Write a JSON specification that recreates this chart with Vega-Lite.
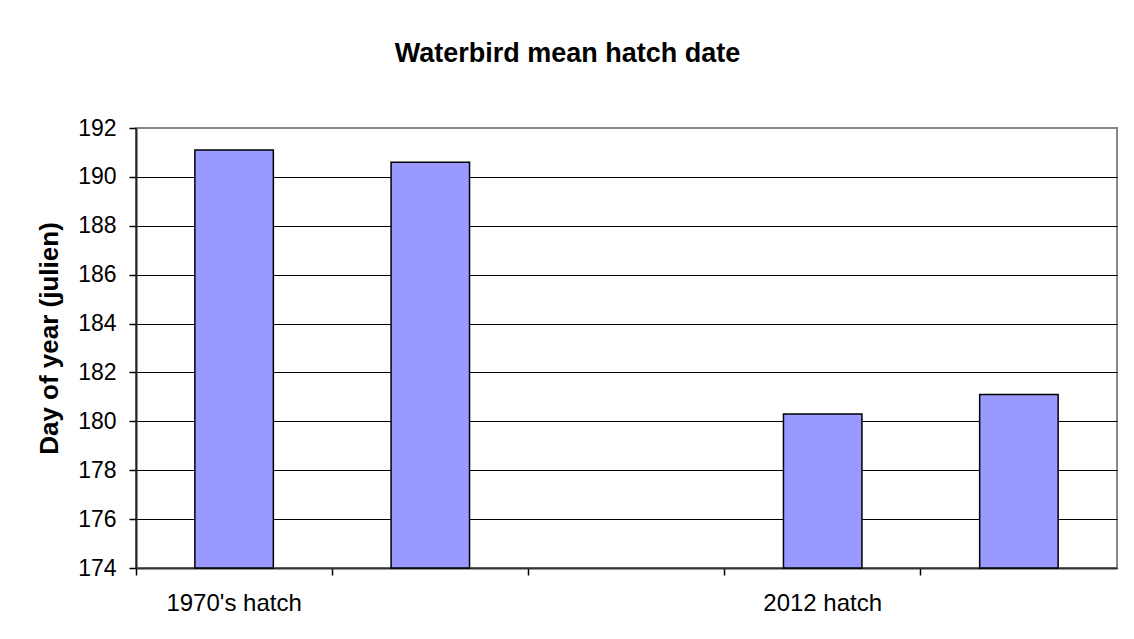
{
  "$schema": "https://vega.github.io/schema/vega-lite/v6.json",
  "autosize": "none",
  "width": 981,
  "height": 440,
  "padding": {"left": 136, "top": 128, "right": 17, "bottom": 71},
  "background": "white",
  "title": {
    "text": "Waterbird mean hatch date",
    "font": "Liberation Sans",
    "fontSize": 27,
    "fontWeight": "bold",
    "color": "black",
    "anchor": "middle",
    "baseline": "alphabetic",
    "dx": -59,
    "offset": 28
  },
  "data": {
    "values": [
      {"slot": 1, "period": "1970's hatch", "day": 191.1},
      {"slot": 2, "period": "1970's hatch", "day": 190.6},
      {"slot": 4, "period": "2012 hatch", "day": 180.3},
      {"slot": 5, "period": "2012 hatch", "day": 181.1}
    ]
  },
  "mark": {"type": "bar", "width": {"band": 0.4}, "fill": "#9999FF", "stroke": "black", "strokeWidth": 1.5},
  "encoding": {
    "x": {
      "field": "slot",
      "type": "ordinal",
      "scale": {"domain": [1, 2, 3, 4, 5], "paddingInner": 0, "paddingOuter": 0},
      "axis": {
        "title": null,
        "bandPosition": 0,
        "labelDx": 98,
        "labelAngle": 0,
        "labelAlign": "center",
        "labelExpr": "datum.value == 1 ? \"1970's hatch\" : datum.value == 4 ? '2012 hatch' : ''",
        "labelFont": "Liberation Sans",
        "labelFontSize": 24,
        "labelColor": "black",
        "labelPadding": 16,
        "tickSize": 7,
        "tickColor": "black",
        "tickWidth": 1.5,
        "domainColor": "#333",
        "domainWidth": 2,
        "grid": false
      }
    },
    "y": {
      "field": "day",
      "type": "quantitative",
      "scale": {"domain": [174, 192], "zero": false, "nice": false},
      "axis": {
        "title": "Day of year (julien)",
        "titleFont": "Liberation Sans",
        "titleFontSize": 26,
        "titleFontWeight": "bold",
        "titleColor": "black",
        "titleX": -74,
        "titleY": 210,
        "values": [174, 176, 178, 180, 182, 184, 186, 188, 190, 192],
        "labelFont": "Liberation Sans",
        "labelFontSize": 23,
        "labelColor": "black",
        "labelPadding": 13,
        "tickSize": 7,
        "tickColor": "black",
        "tickWidth": 1.5,
        "domainColor": "#222",
        "domainWidth": 2,
        "grid": true,
        "gridColor": {"condition": {"test": "datum.value == 192", "value": "#888"}, "value": "black"},
        "gridWidth": 1
      }
    },
    "y2": {"datum": 174}
  },
  "config": {
    "view": {"stroke": "#888", "strokeWidth": 2}
  }
}
